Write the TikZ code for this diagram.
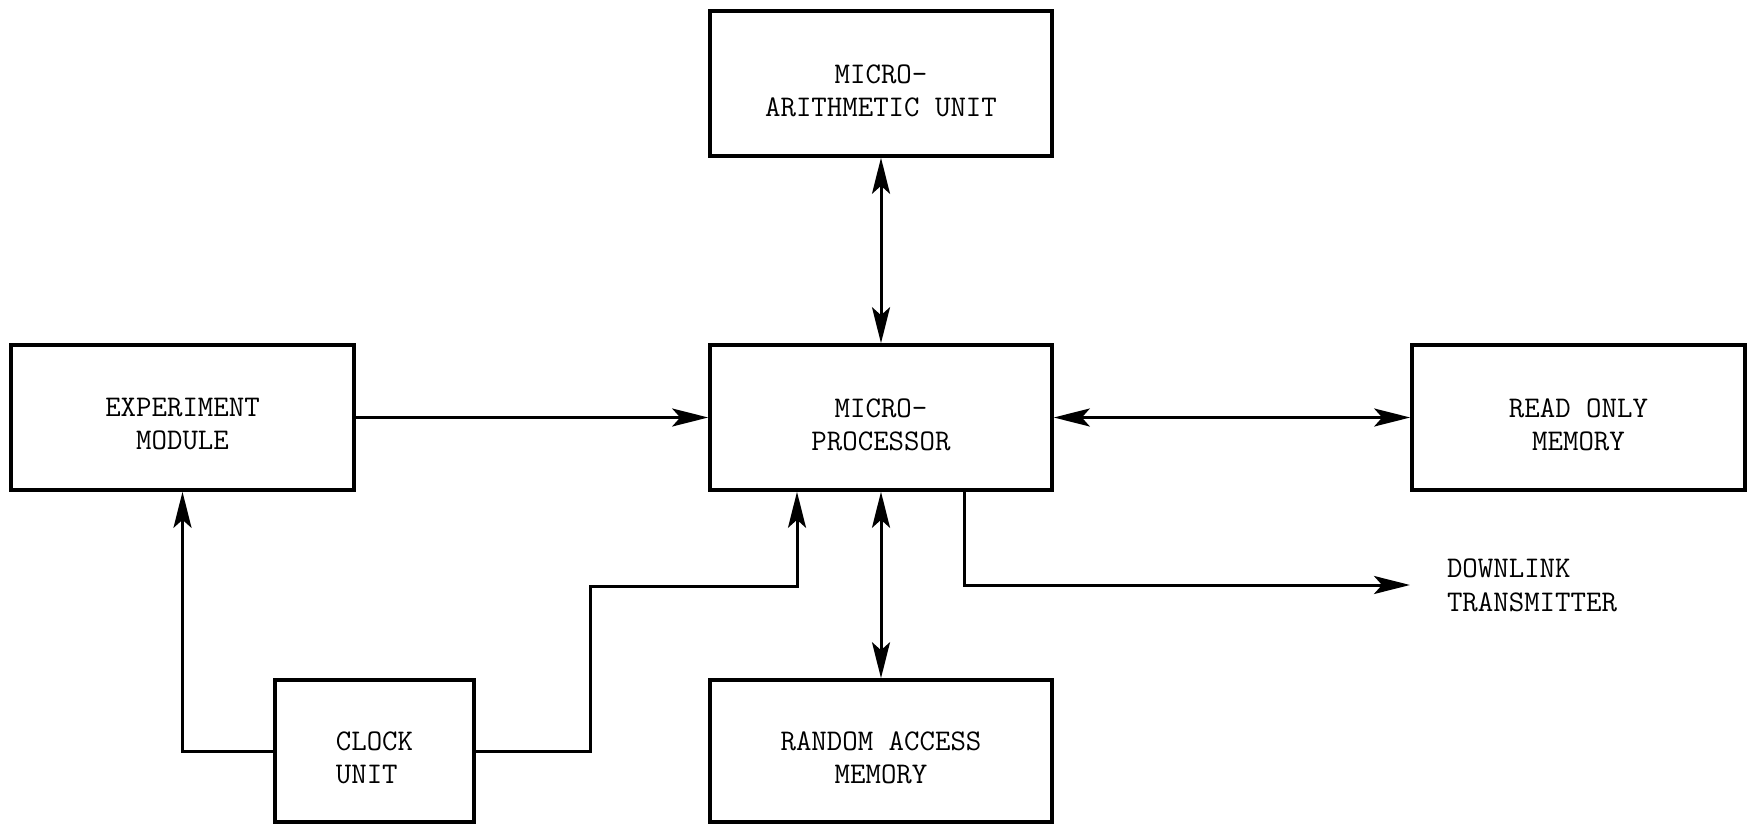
\documentclass[tikz,border=0pt]{standalone}
\usepackage{fontspec}
\usetikzlibrary{arrows.meta}
\begin{document}
\begin{tikzpicture}[x=0.5pt,y=-0.5pt,
  lbl/.style={font=\ttfamily\fontsize{15}{16.5}\selectfont},
  box/.style={draw, line width=1.8pt, inner sep=0pt},
  txt/.style={lbl, align=center, yshift=-3.5pt},
  conn/.style={line width=1.5pt},
  >={Stealth[length=18pt,width=9pt,inset=4pt]}]
\useasboundingbox (0,0) rectangle (1747,824);
\node[box, minimum width=171pt, minimum height=72.5pt,
  label={[txt]center:{MICRO-\\ARITHMETIC UNIT}}] (alu) at (881,83.5) {};
\node[box, minimum width=171.5pt, minimum height=72.5pt,
  label={[txt]center:{EXPERIMENT\\MODULE}}] (exp) at (182.5,417.5) {};
\node[box, minimum width=171pt, minimum height=72.5pt,
  label={[txt]center:{MICRO-\\PROCESSOR}}] (mp) at (881,417.5) {};
\node[box, minimum width=166.5pt, minimum height=72.5pt,
  label={[txt]center:{READ ONLY\\MEMORY}}] (rom) at (1578.5,417.5) {};
\node[box, minimum width=99.5pt, minimum height=71pt,
  label={[txt, align=left]center:{CLOCK\\UNIT}}] (clock) at (374.5,751) {};
\node[box, minimum width=171pt, minimum height=71pt,
  label={[txt]center:{RANDOM ACCESS\\MEMORY}}] (ram) at (881,751) {};
\node[lbl, font=\ttfamily\fontsize{15}{17}\selectfont, align=left, anchor=west, inner sep=0pt, outer xsep=18.5pt] (dl) at (1410,585) {DOWNLINK\\TRANSMITTER};
\coordinate (c1) at (590,586);
\draw[conn,<->] (alu.south) -- (mp.north);
\draw[conn,->] (exp.east) -- (mp.west);
\draw[conn,<->] (mp.east) -- (rom.west);
\draw[conn,<->] (mp.south) -- (ram.north);
\draw[conn,->] (clock.west) -| (exp.south);
\draw[conn,->] (clock.east) -| (c1) -| ([xshift=-42pt]mp.south);
\draw[conn,->] ([xshift=41.5pt]mp.south) |- (dl.west);
\end{tikzpicture}
\end{document}
